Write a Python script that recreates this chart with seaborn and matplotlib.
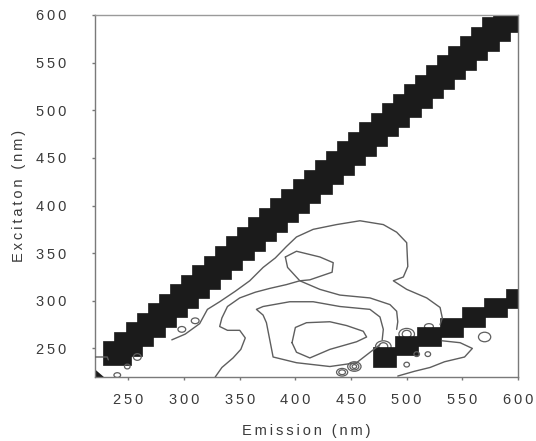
import numpy as np
import pandas as pd
import matplotlib
matplotlib.use("Agg")
import matplotlib.pyplot as plt
from matplotlib.patches import Ellipse, Polygon
import seaborn as sns

# ---- axes ----
em_ticks = [250, 300, 350, 400, 450, 500, 550, 600]
ex_ticks = [250, 300, 350, 400, 450, 500, 550, 600]
em_range = [220, 600]
ex_range = [220, 600]

# ---- saturated scatter cells (centre emission / centre excitation, nm) ----
ray1_em = [240, 250, 260, 270, 280, 290, 300, 310, 320, 330, 340, 350, 360,
           370, 380, 390, 400, 410, 420, 430, 440, 450, 460, 470, 480, 490,
           500, 510, 520, 530, 540, 550, 560, 570, 580, 590]
ray1_ex = [245, 255, 265, 275, 285, 295, 305, 315, 325, 335, 345, 355, 365,
           375, 385, 395, 405, 415, 425, 435, 445, 455, 465, 475, 485, 495,
           505, 515, 525, 535, 545, 555, 565, 575, 585, 595]
ray2_em = [480, 500, 520, 540, 560, 580, 600]
ray2_ex = [241, 253, 263, 272, 283, 293, 302]

# ---- fluorescence contour lines (emission, excitation) ----
c1_em = [289, 301, 314, 321, 332, 346, 359, 371, 382, 392, 401, 416, 437,
         458, 479, 491, 500, 501, 497, 488, 500, 518, 530, 532, 530]
c1_ex = [259, 265, 276, 291, 299, 310, 321, 335, 345, 357, 367, 375, 380,
         384, 380, 372, 361, 336, 325, 321, 312, 303, 293, 282, 275]

c2_em = [328, 334, 344, 351, 355, 350, 339, 332, 334, 339, 350, 364, 377,
         392, 404, 410, 422, 440, 467, 485, 491, 492, 491]
c2_ex = [220, 230, 240, 249, 261, 269, 269, 273, 282, 294, 303, 309, 313,
         317, 321, 318, 312, 306, 303, 296, 289, 278, 270]

lobe_em = [391, 401, 422, 434, 433, 413, 404, 393, 391]
lobe_ex = [346, 352, 346, 340, 330, 322, 321, 335, 346]

c3_em = [476, 455, 431, 401, 380, 377, 374, 371, 365, 371, 395, 416, 440,
         467, 476, 479, 478]
c3_ex = [254, 235, 231, 235, 241, 259, 277, 285, 291, 294, 299, 299, 294,
         291, 283, 270, 259]

core_em = [397, 400, 410, 431, 446, 461, 464, 455, 431, 413, 401, 397]
core_ex = [256, 272, 277, 278, 274, 268, 262, 257, 249, 240, 246, 256]

low_em = [532, 548, 559, 552, 534, 521, 507, 492]
low_ex = [258, 256, 250, 241, 236, 230, 226, 221]

edge_em = [220, 231, 232]
edge_ex = [241, 241, 238]

corner_em = [220, 228, 220]
corner_ex = [220, 220, 228]

# small closed contours: centre emission, centre excitation, width, height
isl_em = [298, 310, 258, 249, 240, 570, 500, 509, 519, 453, 453, 453, 442, 442]
isl_ex = [270, 279, 241, 231, 222, 262, 233, 244, 244, 231, 231, 231, 225, 225]
isl_w = [7, 7, 7, 5, 6, 11, 5, 5, 5, 4, 8, 12, 6, 10]
isl_h = [6, 6, 7, 5, 5, 10, 5, 5, 5, 4, 7, 10, 5, 8]

# rings sitting on top of the second-order cells
arc_em = [479, 479, 500, 500, 520]
arc_ex = [252, 252, 265, 265, 273]
arc_w = [8, 14, 8, 14, 8]
arc_h = [8, 12, 8, 12, 6]

sns.set_theme(style="white")
plt.rcParams["font.family"] = ["Liberation Sans", "DejaVu Sans"]

TXT = "#3a3a3a"
LINE = "#5e5e5e"
INK = "#1b1b1b"
SP = "\u2009"
CELL1 = 25   # cell size of the first-order scatter band (nm)
CELL2 = 21   # cell size of the second-order scatter band (nm)


def spaced(s):
    return SP.join(s)


fig = plt.figure(figsize=(5.36, 4.41), dpi=100)
ax = fig.add_axes([95 / 536, 1 - 377 / 441, 423 / 536, 362 / 441])

# scatter cells
ax.bar(ray1_em, CELL1, width=CELL1, bottom=np.array(ray1_ex) - CELL1 / 2,
       color=INK, edgecolor=INK, linewidth=0.5, zorder=2)
ax.bar(ray2_em, CELL2 - 1, width=CELL2, bottom=np.array(ray2_ex) - (CELL2 - 1) / 2,
       color=INK, edgecolor=INK, linewidth=0.5, zorder=2)
ax.add_patch(Polygon(list(zip(corner_em, corner_ex)), closed=True,
                     facecolor=INK, edgecolor="none", zorder=2))

# contour lines
for xs, ys in [(c1_em, c1_ex), (c2_em, c2_ex), (lobe_em, lobe_ex),
               (c3_em, c3_ex), (core_em, core_ex), (low_em, low_ex),
               (edge_em, edge_ex)]:
    df = pd.DataFrame({"em": xs, "ex": ys})
    sns.lineplot(data=df, x="em", y="ex", sort=False, estimator=None,
                 color=LINE, linewidth=1.0, ax=ax, zorder=3)

for cx, cy, w, h in zip(isl_em, isl_ex, isl_w, isl_h):
    ax.add_patch(Ellipse((cx, cy), w, h, facecolor="none", edgecolor=LINE,
                         linewidth=0.9, zorder=3))
for cx, cy, w, h in zip(arc_em, arc_ex, arc_w, arc_h):
    ax.add_patch(Ellipse((cx, cy), w, h, facecolor="none", edgecolor=LINE,
                         linewidth=0.9, zorder=1.5))

ax.set_xlim(*em_range)
ax.set_ylim(*ex_range)
ax.set_xticks(em_ticks)
ax.set_yticks(ex_ticks)
ax.set_xticklabels([spaced(str(v)) for v in em_ticks], fontsize=10.5, color=TXT)
ax.set_yticklabels([spaced(str(v)) for v in ex_ticks], fontsize=10.5, color=TXT)
ax.tick_params(axis="both", direction="out", length=2.5, width=1,
               color="#777777", bottom=True, left=True)
ax.tick_params(axis="y", pad=18)
ax.tick_params(axis="x", pad=9)

ax.set_xlabel(spaced("Emission (nm)"), fontsize=10.5, color=TXT, labelpad=12)
ax.set_ylabel(spaced("Excitaton (nm)"), fontsize=10.5, color=TXT, labelpad=7)

for name, sp in ax.spines.items():
    sp.set_visible(True)
    sp.set_linewidth(1.0)
    sp.set_color("#7a7a7a")
ax.spines["top"].set_color("#9a9a9a")
ax.grid(False)

fig.savefig("out.png", dpi=100)
